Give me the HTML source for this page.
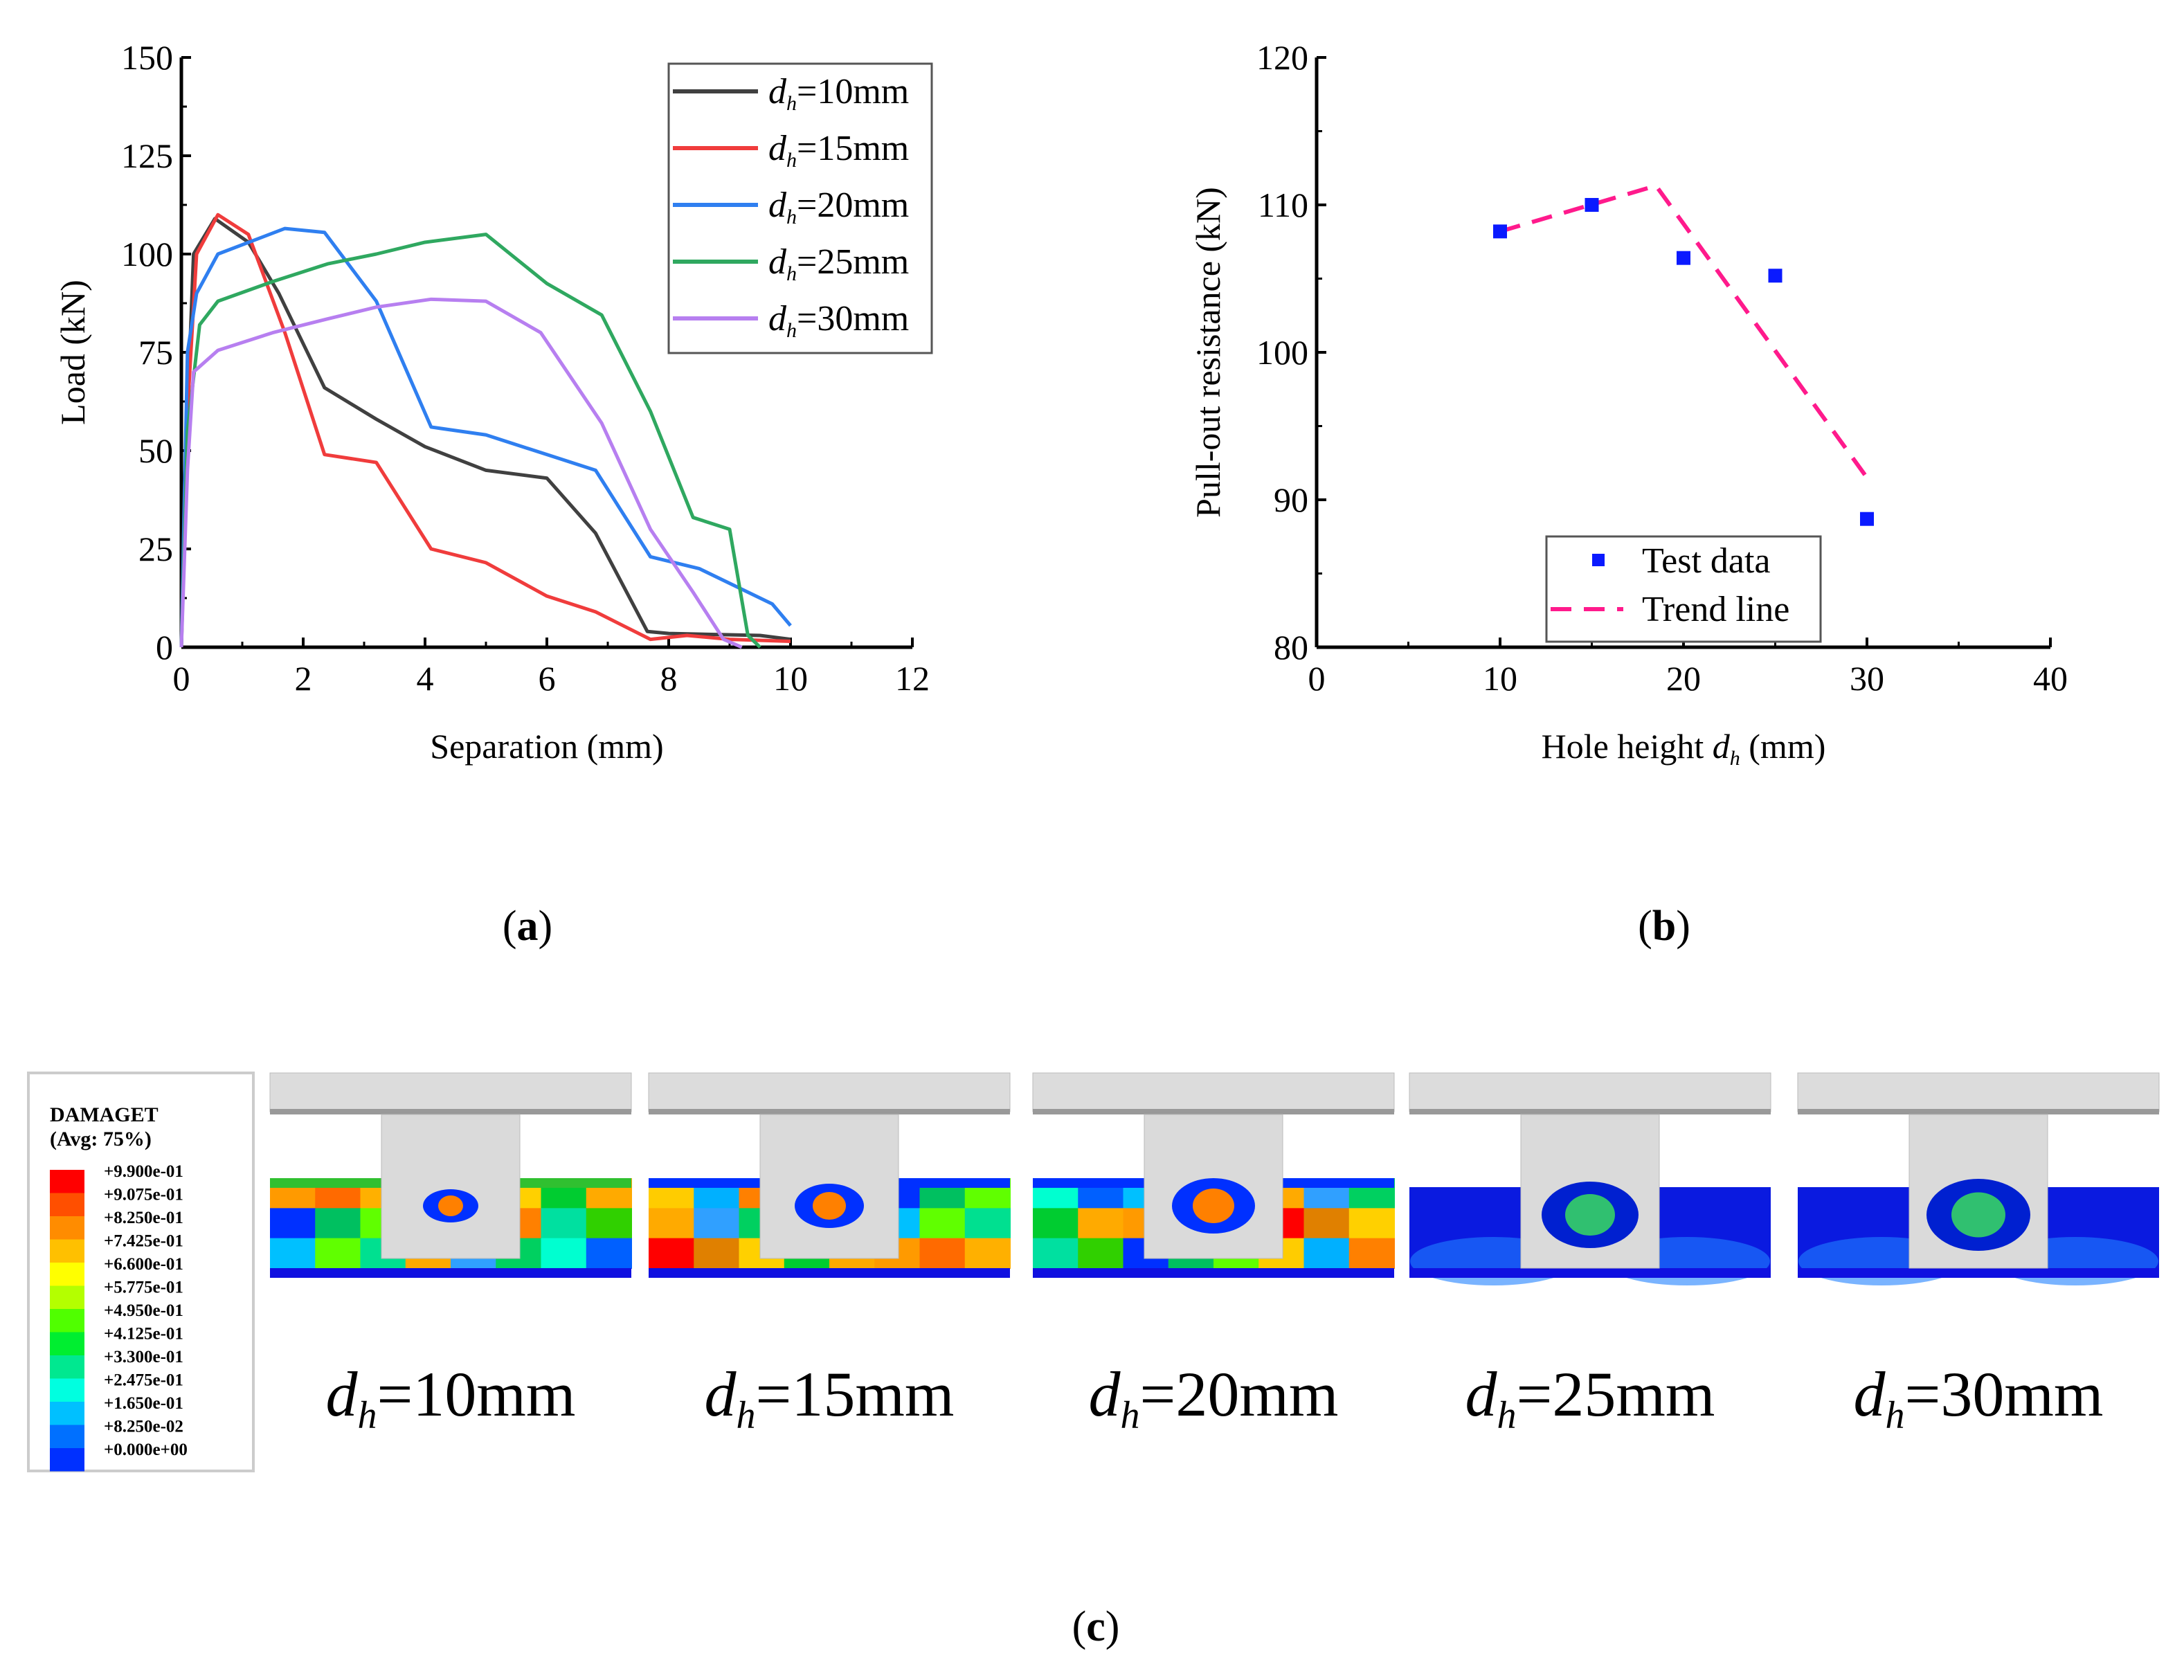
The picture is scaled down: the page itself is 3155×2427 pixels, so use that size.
<!DOCTYPE html>
<html><head><meta charset="utf-8"><style>
body{margin:0;background:#fff}
svg{display:block;font-family:"Liberation Serif",serif}
</style></head><body>
<svg id="root" width="3155" height="2427" viewBox="0 0 3155 2427" xmlns="http://www.w3.org/2000/svg">
<g id="chartA"></g>
<g id="chartB"></g>
<text x="762" y="1358" font-size="62" text-anchor="middle">(<tspan font-weight="bold">a</tspan>)</text>
<text x="2404" y="1358" font-size="62" text-anchor="middle">(<tspan font-weight="bold">b</tspan>)</text>
<text x="1583" y="2370" font-size="62" text-anchor="middle">(<tspan font-weight="bold">c</tspan>)</text>
<g id="panelC"></g>
</svg>
<script>
// ---- Chart A data ----
const xTicksA=[0,2,4,6,8,10,12];
const yTicksA=[0,25,50,75,100,125,150];
const seriesNamesA=["10","15","20","25","30"];
const seriesColorsA=["#404040","#f03c3c","#2f7ff0","#2fa860","#b77ff0"];
const s10=[[0,0],[0.05,40],[0.2,100],[0.55,109],[1.1,103],[1.6,90],[2.35,66],[3.2,58],[4,51],[5,45],[6,43],[6.8,29],[7.65,4],[8,3.5],[9.5,3],[10,2]];
const s15=[[0,0],[0.1,60],[0.25,100],[0.6,110],[1.1,105],[1.7,80],[2.35,49],[3.2,47],[4.1,25],[5,21.5],[6,13],[6.8,9],[7.7,2],[8.3,3],[9,2],[10,1.5]];
const s20=[[0,0],[0.1,75],[0.25,90],[0.6,100],[1.7,106.5],[2.35,105.5],[3.2,88],[4.1,56],[5,54],[6,49],[6.8,45],[7.7,23],[8.5,20],[9.7,11],[10,5.5]];
const s25=[[0,0],[0.1,55],[0.3,82],[0.6,88],[1.5,93],[2.4,97.5],[3.2,100],[4,103],[5,105],[6,92.5],[6.9,84.5],[7.7,60],[8.4,33],[9,30],[9.3,3],[9.5,0]];
const s30=[[0,0],[0.1,45],[0.2,70],[0.6,75.5],[1.5,80],[2.4,83.5],[3.2,86.5],[4.1,88.5],[5,88],[5.9,80],[6.9,57],[7.7,30],[8.4,14],[8.9,2],[9.2,0]];
// ---- Chart B data ----
const xTicksB=[0,10,20,30,40];
const yTicksB=[80,90,100,110,120];
const testX=[10,15,20,25,30];
const testY=[108.2,110,106.4,105.2,88.7];
const trendX=[10,18.5,30];
const trendY=[108.2,111.3,91.5];

const NS="http://www.w3.org/2000/svg";
function mk(p,tag,at){const e=document.createElementNS(NS,tag);for(const k in at)e.setAttribute(k,at[k]);p.appendChild(e);return e;}

// Chart A
const A=document.getElementById('chartA');
const ax0=262,ax1=1318,ay0=935,ay1=83;
const xA=v=>ax0+(v-0)/12*(ax1-ax0);
const yA=v=>ay0-(v-0)/150*(ay0-ay1);
function drawAxes(g,x0,x1,y0,y1,xt,yt,xf,yf,minorX,minorY,xlab,ylab,ylx){
  let l=mk(g,'line',{x1:x0,y1:y0,x2:x1,y2:y0,stroke:'#000','stroke-width':5});
  
  l=mk(g,'line',{x1:x0,y1:y0,x2:x0,y2:y1,stroke:'#000','stroke-width':5});
  
  xt.forEach(v=>{const X=xf(v);mk(g,'line',{x1:X,y1:y0,x2:X,y2:y0-14,stroke:'#000','stroke-width':4});
    const t=mk(g,'text',{x:X,y:y0+62,'font-size':50,'text-anchor':'middle'});t.textContent=v;
    });
  minorX.forEach(v=>{const X=xf(v);mk(g,'line',{x1:X,y1:y0,x2:X,y2:y0-8,stroke:'#000','stroke-width':3});});
  yt.forEach(v=>{const Y=yf(v);mk(g,'line',{x1:x0,y1:Y,x2:x0+14,y2:Y,stroke:'#000','stroke-width':4});
    const t=mk(g,'text',{x:x0-12,y:Y+17,'font-size':50,'text-anchor':'end'});t.textContent=v;
    });
  minorY.forEach(v=>{const Y=yf(v);mk(g,'line',{x1:x0,y1:Y,x2:x0+8,y2:Y,stroke:'#000','stroke-width':3});});
  let t=mk(g,'text',{x:(x0+x1)/2,y:y0+160,'font-size':50,'text-anchor':'middle'});t.innerHTML=xlab;
  
  t=mk(g,'text',{x:ylx,y:(y0+y1)/2,'font-size':50,'text-anchor':'middle',transform:`rotate(-90 ${ylx} ${(y0+y1)/2})`});t.textContent=ylab;
  
}
drawAxes(A,ax0,ax1,ay0,ay1,xTicksA,yTicksA,xA,yA,[1,3,5,7,9,11],[12.5,37.5,62.5,87.5,112.5,137.5],'Separation (mm)','Load (kN)',122);
[s10,s15,s20,s25,s30].forEach((s,i)=>{
  const p=mk(A,'polyline',{points:s.map(d=>xA(d[0])+','+yA(d[1])).join(' '),fill:'none',stroke:seriesColorsA[i],'stroke-width':5,'stroke-linejoin':'round'});
  
  
});
const lgA=mk(A,'g',{});

mk(lgA,'rect',{x:966,y:92,width:380,height:418,fill:'#fff',stroke:'#555','stroke-width':3});
seriesNamesA.forEach((n,i)=>{
  const Y=132+i*82;
  const e=mk(lgA,'g',{});
  
  mk(e,'line',{x1:972,y1:Y,x2:1095,y2:Y,stroke:seriesColorsA[i],'stroke-width':6});
  const t=mk(e,'text',{x:1110,y:Y+17,'font-size':52});
  t.innerHTML='<tspan font-style="italic">d</tspan><tspan font-style="italic" font-size="30" dy="10">h</tspan><tspan dy="-10">='+n+'mm</tspan>';
});

// Chart B
const B=document.getElementById('chartB');
const bx0=1902,bx1=2962,by0=935,by1=83;
const xB=v=>bx0+v/40*(bx1-bx0);
const yB=v=>by0-(v-80)/40*(by0-by1);
drawAxes(B,bx0,bx1,by0,by1,xTicksB,yTicksB,xB,yB,[5,15,25,35],[85,95,105,115],'Hole height <tspan font-style="italic">d</tspan><tspan font-style="italic" font-size="30" dy="10">h</tspan><tspan dy="-10"> (mm)</tspan>','Pull-out resistance (kN)',1762);
const tr=mk(B,'polyline',{points:trendX.map((x,i)=>xB(x)+','+yB(trendY[i])).join(' '),fill:'none',stroke:'#ff1a8c','stroke-width':6,'stroke-dasharray':'30,18'});

testX.forEach((x,i)=>{
  const r=mk(B,'rect',{x:xB(x)-10,y:yB(testY[i])-10,width:20,height:20,fill:'#0a1aff'});
  
});
const lgB=mk(B,'g',{});

mk(lgB,'rect',{x:2234,y:775,width:396,height:152,fill:'#fff',stroke:'#555','stroke-width':3});
mk(lgB,'rect',{x:2300,y:800,width:18,height:18,fill:'#0a1aff'});
let tt=mk(lgB,'text',{x:2372,y:827,'font-size':52});tt.textContent='Test data';
mk(lgB,'line',{x1:2240,y1:880,x2:2345,y2:880,stroke:'#ff1a8c','stroke-width':6,'stroke-dasharray':'30,18'});
tt=mk(lgB,'text',{x:2372,y:897,'font-size':52});tt.textContent='Trend line';

// Panel C
const C=document.getElementById('panelC');
const cbColors=["#ff0000","#ff4f00","#ff8c00","#ffc000","#ffff00","#b4ff00","#50ff00","#00ee30","#00e890","#00ffe0","#00c0ff","#0070ff","#0030ff"];
const cbLabels=["+9.900e-01","+9.075e-01","+8.250e-01","+7.425e-01","+6.600e-01","+5.775e-01","+4.950e-01","+4.125e-01","+3.300e-01","+2.475e-01","+1.650e-01","+8.250e-02","+0.000e+00"];
const cb=mk(C,'g',{});

mk(cb,'rect',{x:41,y:1550,width:325,height:575,fill:'#fff',stroke:'#ccc','stroke-width':4});
let t1=mk(cb,'text',{x:72,y:1620,'font-size':30,'font-weight':'bold'});t1.textContent='DAMAGET';
t1=mk(cb,'text',{x:72,y:1655,'font-size':30,'font-weight':'bold'});t1.textContent='(Avg: 75%)';
const cbTop=1690,cbH=33.5;
cbColors.forEach((c,i)=>{mk(cb,'rect',{x:72,y:cbTop+i*cbH,width:50,height:cbH,fill:c});});
cbLabels.forEach((l,i)=>{const t=mk(cb,'text',{x:150,y:cbTop+i*cbH+10,'font-size':25,'font-weight':'bold'});t.textContent=l;});
const panels=[390,937,1492,2036,2597];
const plabels=["10","15","20","25","30"];
const mosaic=[["#ff9a00","#ff6a00","#ffb000","#ff0000","#e08000","#ffd000","#00cc30","#ffaa00"],
              ["#0030ff","#00c060","#60ff00","#ffcc00","#00b0ff","#ff8000","#00e0a0","#30d000"],
              ["#00c0ff","#60ff00","#00e090","#ffaa00","#30a0ff","#00d060","#00ffd0","#0060ff"]];
panels.forEach((x0,i)=>{
  const g=mk(C,'g',{});
  
  const w=522,cx=x0+w/2;
  mk(g,'rect',{x:x0,y:1550,width:w,height:56,fill:'#dcdcdc',stroke:'#bbb'});
  mk(g,'rect',{x:x0,y:1602,width:w,height:8,fill:'#999'});
  const by=i<3?1702:1715;
  if(i<3){
    const cols=8,rows=3,cw=w/cols,rh=(1832-by)/rows;
    for(let r=0;r<rows;r++)for(let c=0;c<cols;c++)
      mk(g,'rect',{x:x0+c*cw,y:by+r*rh,width:cw+1,height:rh+1,fill:mosaic[(r+i)%3][(c+i*3)%8]});
    mk(g,'rect',{x:x0,y:by,width:w,height:14,fill:i===0?'#30c030':'#0030ff'});
  }else{
    mk(g,'rect',{x:x0,y:by,width:w,height:1832-by,fill:'#0a1ae0'});
    mk(g,'ellipse',{cx:cx-140,cy:1822,rx:120,ry:35,fill:'#2080ff',opacity:0.6});
    mk(g,'ellipse',{cx:cx+140,cy:1822,rx:120,ry:35,fill:'#2080ff',opacity:0.6});
  }
  mk(g,'rect',{x:x0,y:1832,width:w,height:14,fill:'#1010e0'});
  mk(g,'rect',{x:cx-100,y:1610,width:200,height:i<3?208:222,fill:'#dadada',stroke:'#bbb'});
  const hr=[30,40,50,60,65][i];
  mk(g,'ellipse',{cx:cx,cy:by+40,rx:hr+10,ry:hr*0.8,fill:i<3?'#0030ff':'#0020d0'});
  mk(g,'ellipse',{cx:cx,cy:by+40,rx:hr*0.6,ry:hr*0.5,fill:i<3?'#ff8000':'#30c070'});
  const t=mk(g,'text',{x:cx,y:2045,'font-size':92,'text-anchor':'middle'});
  t.innerHTML='<tspan font-style="italic">d</tspan><tspan font-style="italic" font-size="56" dy="18">h</tspan><tspan dy="-18">='+plabels[i]+'mm</tspan>';
});
</script>
</body></html>
